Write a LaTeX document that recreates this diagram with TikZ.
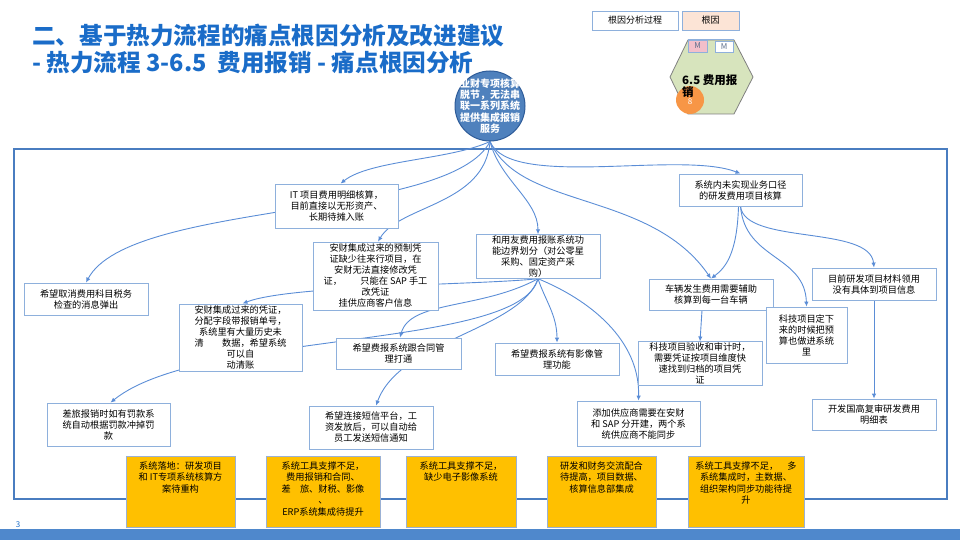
\documentclass[tikz,border=0pt]{standalone}
\usepackage{fontspec}
\setmainfont{Noto Sans CJK SC}
\usetikzlibrary{arrows.meta,backgrounds}
\definecolor{titleblue}{HTML}{1A6CC8}
\definecolor{boxedge}{HTML}{8EB0DC}
\definecolor{linkblue}{HTML}{5B8DD6}
\definecolor{frameblue}{HTML}{4A7DC0}
\definecolor{rootblue}{HTML}{4F81BD}
\definecolor{rootedge}{HTML}{2E5C99}
\definecolor{peach}{HTML}{FCE4D6}
\definecolor{hexgreen}{HTML}{D7E4BD}
\definecolor{hexedge}{HTML}{808080}
\definecolor{mpink}{HTML}{F2BFCA}
\definecolor{mtext}{HTML}{5A6E8C}
\definecolor{badgeorange}{HTML}{F79646}
\definecolor{causeyellow}{HTML}{FFC000}
\definecolor{causeedge}{HTML}{9BB1D4}
\definecolor{barblue}{HTML}{4F88CC}
\begin{document}
\begin{tikzpicture}[x=1pt, y=-1pt,
    pain/.style={draw=boxedge, fill=white, line width=0.8pt, align=center, inner sep=1pt, font=\fontsize{9.2}{11}\selectfont},
    causebox/.style={draw=causeedge, fill=causeyellow, line width=0.8pt, inner sep=0pt, minimum height=71pt, font=\fontsize{9.2}{11.5}\selectfont,
        execute at begin node={\begin{minipage}[c][66pt][t]{104pt}\centering\vspace*{3pt}},
        execute at end node={\end{minipage}}},
    legendbox/.style={draw=boxedge, line width=0.8pt, minimum height=19pt, font=\fontsize{9}{10}\selectfont},
    link/.style={draw=linkblue, line width=0.9pt, -{Latex[length=5pt,width=4.5pt]}}]
    \useasboundingbox (0,0) rectangle (960,540);

    % Title and legend
    \node (title1) [anchor=west, inner sep=0pt, text=titleblue, font=\bfseries\fontsize{23.6}{26}\selectfont] at (32,36) {二、基于热力流程的痛点根因分析及改进建议};
    \node (title2) [anchor=west, inner sep=0pt, text=titleblue, font=\bfseries\fontsize{23.6}{26}\selectfont] at (32,62) {- 热力流程 3-6.5\ \ 费用报销 - 痛点根因分析};
    \node (legproc) [legendbox, fill=white, minimum width=86pt] at (635,20.5) {根因分析过程};
    \node (legcause) [legendbox, fill=peach, minimum width=57pt] at (710.5,20.5) {根因};

    % Process hexagon
    \draw[fill=hexgreen, draw=hexedge, line width=0.8pt] (670,77) -- (688,40) -- (734,40) -- (753,77) -- (734,114) -- (688,114) -- cycle;
    \draw[boxedge, line width=1pt] (688,40) -- (734,40);
    \node (mleft) [draw=boxedge, fill=mpink, minimum width=19pt, minimum height=12pt, inner sep=0pt, text=mtext, font=\fontsize{8}{8}\selectfont] at (697.5,46) {M};
    \node (mright) [draw=boxedge, fill=white, minimum width=18pt, minimum height=11pt, inner sep=0pt, text=mtext, font=\fontsize{8}{8}\selectfont] at (724,46.5) {M};
    \node (badge) [circle, fill=badgeorange, minimum size=28pt, inner sep=0pt] at (690,100) {};
    \node (badgenum) [inner sep=0pt, text=white, font=\fontsize{8}{8}\selectfont] at (690,102) {8};
    \node (hextitle) [anchor=west, align=left, inner sep=0pt, font=\bfseries\fontsize{11.5}{12}\selectfont] at (682,86) {6.5 费用报\\销};

    % Pain point
    \node (root) [circle, draw=rootedge, fill=rootblue, line width=1pt, minimum size=70pt, inner sep=0pt] at (490,106) {};
    \node (roottext) [align=center, inner sep=0pt, text=white, font=\bfseries\fontsize{10}{11.4}\selectfont] at (root.center) {业财专项核算\\脱节，无法串\\联一系列系统\\提供集成报销\\服务};

    % Analysis boxes
    \node (itcost) [pain, minimum width=123pt, minimum height=44pt] at (336.5,206) {IT 项目费用明细核算，\\目前直接以无形资产、\\长期待摊入账};
    \node (presetv) [pain, minimum width=125pt, minimum height=68pt] at (375.5,276) {安财集成过来的预制凭\\证缺少往来行项目，在\\安财无法直接修改凭\\证，\hspace{2em}只能在 SAP 手工\\改凭证\\挂供应商客户信息};
    \node (yonyou) [pain, minimum width=124pt, minimum height=43pt] at (538,256.5) {和用友费用报账系统功\\能边界划分（对公零星\\采购、固定资产采\\购）};
    \node (rdcalc) [pain, minimum width=123pt, minimum height=32pt] at (740.5,190) {系统内未实现业务口径\\的研发费用项目核算};
    \node (taxmsg) [pain, minimum width=124pt, minimum height=32pt] at (86,299) {希望取消费用科目税务\\检查的消息弹出};
    \node (autoclr) [pain, minimum width=123pt, minimum height=67pt] at (240.5,337.5) {安财集成过来的凭证，\\分配字段带报销单号，\\系统里有大量历史未\\清\hspace{2em}数据，希望系统\\可以自\\动清账};
    \node (contract) [pain, minimum width=125pt, minimum height=31pt] at (398.5,353.5) {希望费报系统跟合同管\\理打通};
    \node (image) [pain, minimum width=124pt, minimum height=32pt] at (557,359) {希望费报系统有影像管\\理功能};
    \node (vehicle) [pain, minimum width=124pt, minimum height=31pt] at (711,294.5) {车辆发生费用需要辅助\\核算到每一台车辆};
    \node (matuse) [pain, minimum width=124pt, minimum height=32pt] at (874,284) {目前研发项目材料领用\\没有具体到项目信息};
    \node (budget) [pain, minimum width=81pt, minimum height=56pt] at (806.5,335) {科技项目定下\\来的时候把预\\算也做进系统\\里};
    \node (audit) [pain, minimum width=124pt, minimum height=43pt] at (700,363.5) {科技项目验收和审计时，\\需要凭证按项目维度快\\速找到归档的项目凭\\证};
    \node (travel) [pain, minimum width=123pt, minimum height=43pt] at (108.5,424.5) {差旅报销时如有罚款系\\统自动根据罚款冲掉罚\\款};
    \node (sms) [pain, minimum width=124pt, minimum height=43pt] at (371,427.5) {希望连接短信平台，工\\资发放后，可以自动给\\员工发送短信通知};
    \node (supplier) [pain, minimum width=123pt, minimum height=45pt] at (638.5,423.5) {添加供应商需要在安财\\和 SAP 分开建，两个系\\统供应商不能同步};
    \node (hitech) [pain, minimum width=124pt, minimum height=31pt] at (874,414.5) {开发国高复审研发费用\\明细表};

    % Root causes
    \node (cause1) [causebox, minimum width=109pt] at (180.5,491.5) {系统落地：研发项目\\和 IT专项系统核算方\\案待重构};
    \node (cause2) [causebox, minimum width=114pt] at (323,491.5) {系统工具支撑不足，\\费用报销和合同、\\差\hspace{1em}旅、财税、影像\\、\\ERP系统集成待提升};
    \node (cause3) [causebox, minimum width=110pt] at (461,491.5) {系统工具支撑不足，\\缺少电子影像系统};
    \node (cause4) [causebox, minimum width=109pt] at (601.5,491.5) {研发和财务交流配合\\待提高，项目数据、\\核算信息部集成};
    \node (cause5) [causebox, minimum width=116pt] at (746,491.5) {系统工具支撑不足，\hspace{1em}多\\系统集成时，主数据、\\组织架构同步功能待提\\升};

    % Footer
    \fill[barblue] (0,529) rectangle (960,540);
    \node (pagenum) [inner sep=0pt, text=titleblue, font=\fontsize{8}{8}\selectfont] at (18,525) {3};

    % Frame and edges
    \begin{scope}[on background layer]
        \draw[frameblue, line width=1.2pt] (14,149) rectangle (947,499);
        \draw[link] (root.south) .. controls (450,160) and (370,160) .. ([xshift=4pt]itcost.north);
        \draw[link] (root.south) .. controls (450,220) and (130,200) .. (taxmsg.north);
        \draw[link] (root.south) .. controls (485,205) and (400,205) .. ([xshift=2.5pt]presetv.north);
        \draw[link] (root.south) .. controls (500,180) and (538,200) .. (yonyou.north);
        \draw[link] (root.south) .. controls (510,190) and (680,150) .. (rdcalc.north);
        \draw[link] (root.south) .. controls (520,210) and (650,190) .. (vehicle.north);
        \draw[link] ([xshift=-2pt]rdcalc.south) .. controls (737,255) and (725,268) .. (vehicle.north);
        \draw[link] (rdcalc.south) .. controls (745,260) and (805,255) .. (budget.north);
        \draw[link] (rdcalc.south) .. controls (745,245) and (870,225) .. (matuse.north);
        \draw[link] (matuse.south) -- (hitech.north);
        \draw[link] ([xshift=-9pt]vehicle.south) -- (audit.north);
        \draw[link] (yonyou.south) .. controls (480,285) and (290,285) .. ([xshift=2pt]autoclr.north);
        \draw[link] (yonyou.south) .. controls (520,350) and (200,330) .. ([xshift=2pt]travel.north);
        \draw[link] (yonyou.south) .. controls (480,310) and (410,300) .. ([xshift=1.5pt]contract.north);
        \draw[link] (yonyou.south) .. controls (520,330) and (400,340) .. ([xshift=5pt]sms.north);
        \draw[link] (yonyou.south) .. controls (545,300) and (557,315) .. (image.north);
        \draw[link] (yonyou.south) .. controls (590,300) and (640,340) .. (supplier.north);
    \end{scope}
\end{tikzpicture}
\end{document}
